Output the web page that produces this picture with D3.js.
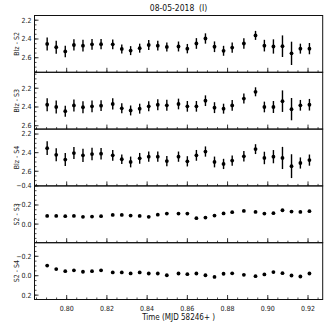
<!DOCTYPE html>
<html>
<head>
<meta charset="utf-8">
<script src="https://cdn.jsdelivr.net/npm/d3@7"></script>
<style>
html,body{margin:0;padding:0;background:#fff;}
svg{display:block;font-family:"DejaVu Sans Condensed","DejaVu Sans",sans-serif;}
</style>
</head>
<body>
<svg id="chart" width="327" height="327"></svg>
<script>
// ---- data ----
const title = "08-05-2018  (I)";
const xLabel = "Time (MJD 58246+ )";
const xTicks = [0.80, 0.82, 0.84, 0.86, 0.88, 0.90, 0.92];
const time = [0.7903, 0.7948, 0.7993, 0.8036, 0.8081, 0.8126, 0.8171, 0.8229, 0.8274, 0.8318,
              0.8363, 0.8408, 0.8453, 0.8498, 0.8556, 0.8600, 0.8645, 0.8690, 0.8735, 0.8780,
              0.8823, 0.8881, 0.8939, 0.8983, 0.9028, 0.9073, 0.9118, 0.9162, 0.9207];
const panelLabels = ["Blz - S2", "Blz - S3", "Blz - S4", "S2 - S3", "S2 - S4"];
const blzS2 = [2.453, 2.488, 2.533, 2.464, 2.471, 2.457, 2.455, 2.457, 2.506, 2.524,
               2.498, 2.464, 2.471, 2.485, 2.480, 2.503, 2.448, 2.395, 2.483, 2.526,
               2.492, 2.448, 2.362, 2.471, 2.480, 2.477, 2.553, 2.503, 2.503];
const blzS2Err = [0.070, 0.070, 0.062, 0.060, 0.062, 0.058, 0.055, 0.052, 0.048, 0.048,
                  0.048, 0.053, 0.051, 0.048, 0.053, 0.050, 0.057, 0.055, 0.057, 0.053,
                  0.055, 0.057, 0.048, 0.062, 0.076, 0.115, 0.124, 0.053, 0.060];
const blzS3 = [2.376, 2.400, 2.445, 2.383, 2.403, 2.393, 2.386, 2.368, 2.414, 2.437,
               2.418, 2.393, 2.376, 2.382, 2.368, 2.393, 2.393, 2.333, 2.407, 2.418,
               2.383, 2.310, 2.238, 2.400, 2.400, 2.338, 2.423, 2.382, 2.376];
const blzS3Err = [0.070, 0.070, 0.058, 0.064, 0.065, 0.062, 0.058, 0.060, 0.053, 0.053,
                  0.053, 0.053, 0.058, 0.058, 0.057, 0.057, 0.057, 0.057, 0.058, 0.053,
                  0.058, 0.053, 0.048, 0.057, 0.064, 0.115, 0.119, 0.057, 0.062];
const blzS4 = [2.352, 2.423, 2.474, 2.404, 2.429, 2.415, 2.411, 2.429, 2.471, 2.500,
               2.461, 2.443, 2.443, 2.490, 2.443, 2.493, 2.429, 2.388, 2.500, 2.521,
               2.485, 2.439, 2.362, 2.457, 2.443, 2.457, 2.545, 2.511, 2.480];
const blzS4Err = [0.074, 0.070, 0.070, 0.065, 0.070, 0.067, 0.062, 0.058, 0.050, 0.058,
                  0.058, 0.055, 0.055, 0.055, 0.055, 0.055, 0.058, 0.055, 0.058, 0.055,
                  0.055, 0.057, 0.053, 0.067, 0.071, 0.119, 0.128, 0.060, 0.060];
const s2s3 = [-0.086, -0.086, -0.083, -0.086, -0.076, -0.079, -0.083, -0.096, -0.096, -0.089,
              -0.086, -0.076, -0.099, -0.110, -0.110, -0.110, -0.062, -0.068, -0.089, -0.112,
              -0.125, -0.138, -0.127, -0.110, -0.114, -0.145, -0.131, -0.127, -0.135];
const s2s4 = [-0.104, -0.068, -0.047, -0.055, -0.041, -0.047, -0.055, -0.034, -0.034, -0.024,
              -0.034, -0.023, -0.023, -0.005, -0.023, -0.016, -0.023, -0.005, 0.012, -0.020,
              -0.025, -0.009, 0.005, -0.013, -0.037, -0.026, -0.002, 0.008, -0.023];
const yDomains = [[2.15, 2.755], [2.03, 2.636], [2.147, 2.757], [-0.4, 0.195], [-0.34, 0.245]];
const yTicks = [[2.2, 2.4, 2.6], [2.2, 2.4, 2.6], [2.2, 2.4, 2.6], [-0.4, -0.2, 0.0], [-0.2, 0.0, 0.2]];
const series = [blzS2, blzS3, blzS4, s2s3, s2s4];
const errors = [blzS2Err, blzS3Err, blzS4Err, null, null];

// ---- layout ----
const L = 34.5, R = 322.7, T = 15.5, PH = 56.8;
const svg = d3.select("#chart");
const x = d3.scaleLinear().domain([0.784, 0.9273]).range([L, R]);
const fmt2 = d3.format(".2f"), fmt1 = d3.format(".1f");
const minorX = d3.range(0.785, 0.9275, 0.005);

svg.append("text").attr("x", (L + R) / 2).attr("y", 10.5)
  .style("white-space", "pre")
  .attr("text-anchor", "middle").attr("font-size", 8.5).attr("fill", "#111").text(title);

series.forEach((vals, i) => {
  const top = T + i * PH, bot = top + PH;
  const y = d3.scaleLinear().domain(yDomains[i]).range([top, bot]);
  const g = svg.append("g");
  const d0 = yDomains[i][0], d1 = yDomains[i][1];
  // minor y ticks
  const minorY = d3.range(Math.ceil(d0 / 0.05 - 1e-6) * 0.05, d1 + 1e-9, 0.05);
  g.selectAll(".my").data(minorY).join("line")
    .attr("x1", L).attr("x2", L + 2).attr("y1", d => y(d)).attr("y2", d => y(d))
    .attr("stroke", "#222").attr("stroke-width", 0.8);
  // major y ticks
  const ticksIn = yTicks[i].filter(t => t >= d0 - 1e-9 && t <= d1 + 1e-9);
  g.selectAll(".Mj").data(ticksIn).join("line")
    .attr("x1", L).attr("x2", L + 4).attr("y1", d => y(d)).attr("y2", d => y(d))
    .attr("stroke", "#222").attr("stroke-width", 0.9);
  g.selectAll(".yl").data(ticksIn).join("text")
    .attr("x", L - 3).attr("y", d => y(d)).attr("dy", "0.35em")
    .attr("text-anchor", "end").attr("font-size", 7).attr("fill", "#222")
    .text(d => fmt1(d).replace("-", "\u2212"));
  // x ticks at panel bottom (pointing up)
  g.selectAll(".mx").data(minorX).join("line")
    .attr("x1", d => x(d)).attr("x2", d => x(d)).attr("y1", bot).attr("y2", bot - 2)
    .attr("stroke", "#222").attr("stroke-width", 0.8);
  g.selectAll(".Mx").data(xTicks).join("line")
    .attr("x1", d => x(d)).attr("x2", d => x(d)).attr("y1", bot).attr("y2", bot - 4.5)
    .attr("stroke", "#222").attr("stroke-width", 0.9);
  // frame
  g.append("rect").attr("x", L).attr("y", top).attr("width", R - L).attr("height", PH)
    .attr("fill", "none").attr("stroke", "#111").attr("stroke-width", 1);
  // y label
  g.append("text").attr("transform", `translate(16.5,${top + PH / 2}) rotate(-90)`)
    .attr("text-anchor", "middle").attr("dy", "0.35em").attr("font-size", 7).attr("fill", "#222")
    .text(panelLabels[i]);
  // error bars
  const err = errors[i];
  if (err) {
    g.selectAll(".eb").data(vals).join("line")
      .attr("x1", (d, k) => x(time[k])).attr("x2", (d, k) => x(time[k]))
      .attr("y1", (d, k) => y(d - err[k])).attr("y2", (d, k) => y(d + err[k]))
      .attr("stroke", "#000").attr("stroke-width", 1.4);
  }
  g.selectAll(".pt").data(vals).join("circle")
    .attr("cx", (d, k) => x(time[k])).attr("cy", d => y(d)).attr("r", 1.9).attr("fill", "#000");
  if (i === series.length - 1) {
    g.selectAll(".xl").data(xTicks).join("text")
      .attr("x", d => x(d)).attr("y", bot + 9).attr("dy", "0.35em")
      .attr("text-anchor", "middle").attr("font-size", 7).attr("fill", "#222").text(d => fmt2(d));
  }
});

svg.append("text").attr("x", (L + R) / 2).attr("y", 317).attr("dy", "0.35em")
  .attr("text-anchor", "middle").attr("font-size", 8).attr("fill", "#111").text(xLabel);
</script>
</body>
</html>
